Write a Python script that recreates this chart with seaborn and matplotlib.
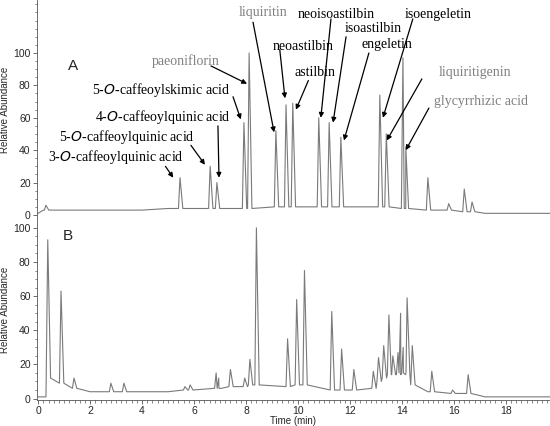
import numpy as np
import matplotlib.pyplot as plt
import seaborn as sns
from matplotlib.ticker import AutoMinorLocator, MultipleLocator

sns.set_style("ticks")
plt.rcParams['font.family'] = ['Liberation Sans', 'DejaVu Sans']

# Panel A peaks: retention time (min), height (%), foot level (%)
a_times = [0.3, 5.46, 6.62, 6.88, 7.92, 8.12, 9.15, 9.54, 9.8, 10.8, 11.2, 11.65,
           13.15, 13.4, 14.04, 14.15, 15.0, 15.8, 16.4, 16.7]
a_heights = [6, 23, 30, 20, 57, 100, 52, 68, 69, 60, 57, 48, 74, 50, 97, 42, 23, 7, 16, 8]
a_feet = [3, 4, 4, 4, 4, 4, 5, 5, 5, 5, 5, 5, 5, 5, 4, 4, 3, 3, 2, 2]
a_base_t = [0.0, 0.2, 2.0, 4.0, 5.0, 17.2, 18.0, 19.7]
a_base_v = [1, 3, 3, 3, 4, 1, 1, 1]

# Panel B peaks
b_times = [0.37, 0.88, 1.38, 2.8, 3.3, 5.65, 5.85, 6.85, 6.95, 7.4, 7.95, 8.15, 8.4,
           9.6, 9.95, 10.25, 11.3, 11.68, 12.15, 12.9, 13.1, 13.3, 13.5, 13.65, 13.85,
           13.95, 14.05, 14.2, 14.4, 15.15, 15.95, 16.55]
b_heights = [93, 63, 12, 9, 9, 7, 8, 15, 12, 17, 12, 23, 100, 35, 58, 75, 51, 29, 17,
             16, 24, 31, 49, 25, 27, 50, 30, 59, 31, 16, 5, 14]
b_feet = [12, 9, 6, 4, 4, 5, 5, 6, 6, 7, 7, 8, 8, 7, 8, 8, 5, 5, 5, 6, 10, 12, 14, 14,
          14, 15, 15, 14, 8, 4, 3, 3]
b_base_t = [0.0, 0.3, 2.0, 5.0, 15.0, 17.2, 18.0, 19.7]
b_base_v = [1, 1, 4, 4, 4, 1, 1, 1]

labels = ["3-$\\it{O}$-caffeoylquinic acid", "5-$\\it{O}$-caffeoylquinic acid",
          "4-$\\it{O}$-caffeoylquinic acid", "5-$\\it{O}$-caffeoylskimic acid",
          "paeoniflorin", "liquiritin", "neoastilbin", "astilbin", "neoisoastilbin",
          "isoastilbin", "engeletin", "isoengeletin", "liquiritigenin", "glycyrrhizic acid"]
label_xy = [(3.0, 36), (3.42, 48), (4.8, 60.5), (4.73, 77), (5.7, 95), (8.65, 125),
            (10.2, 104), (10.65, 88), (11.46, 124), (12.88, 115), (13.42, 105),
            (15.38, 124), (16.8, 88), (17.04, 70)]
tips = [(5.2, 23), (6.42, 31), (6.96, 23), (7.8, 59), (8.04, 81), (9.08, 51), (9.5, 72),
        (9.92, 65), (10.88, 60), (11.35, 57), (11.77, 46), (13.27, 60), (13.42, 46),
        (14.15, 40)]
starts = [(4.9, 30), (5.88, 43), (6.92, 55), (7.5, 73), (6.65, 92), (8.27, 119),
          (9.3, 102), (10.4, 83), (11.27, 121), (11.85, 110), (12.73, 100), (14.42, 121),
          (14.77, 84), (15.04, 66)]
grey_labels = {"paeoniflorin", "liquiritin", "liquiritigenin", "glycyrrhizic acid"}


def trace(times, heights, feet, base_t, base_v, hw=0.06):
    t = list(base_t)
    v = list(base_v)
    for tt, h, f in zip(times, heights, feet):
        t += [tt - hw, tt, tt + hw * 1.8]
        v += [f, h, f]
    order = np.argsort(t, kind="stable")
    return np.array(t)[order], np.array(v)[order]


fig = plt.figure(figsize=(5.5, 4.26), dpi=100)
ax_a = fig.add_axes([0.067, 0.4836, 0.933, 0.5164])
ax_b = fig.add_axes([0.067, 0.062, 0.933, 0.4216])

line_col = "#7a7a7a"
ta, va = trace(a_times, a_heights, a_feet, a_base_t, a_base_v)
tb, vb = trace(b_times, b_heights, b_feet, b_base_t, b_base_v)
sns.lineplot(x=ta, y=va, ax=ax_a, color=line_col, linewidth=0.8, sort=False)
sns.lineplot(x=tb, y=vb, ax=ax_b, color=line_col, linewidth=0.8, sort=False)

ax_a.set_ylim(-3.1, 132.7)
ax_b.set_ylim(-0.6, 104.6)
for ax in (ax_a, ax_b):
    ax.set_xlim(-0.05, 19.7)
    ax.xaxis.set_major_locator(MultipleLocator(2))
    ax.xaxis.set_minor_locator(AutoMinorLocator(10))
    ax.set_yticks([0, 20, 40, 60, 80, 100])
    ax.yaxis.set_minor_locator(AutoMinorLocator(4))
    ax.tick_params(labelsize=7.5, length=3, width=0.6, color="#555555", pad=1.5)
    ax.tick_params(which="minor", length=1.8, width=0.5, color="#555555")
    for s in ("top", "right"):
        ax.spines[s].set_visible(False)
    for s in ("left", "bottom"):
        ax.spines[s].set_linewidth(0.6)
        ax.spines[s].set_color("#555555")
    ax.set_ylabel("Relative Abundance", fontsize=7, labelpad=2)

ax_a.tick_params(labelbottom=False)
ax_b.set_xlabel("Time (min)", fontsize=7, labelpad=0)
ax_a.text(1.35, 92, "A", fontsize=11, ha="center", va="center")
ax_b.text(1.15, 95, "B", fontsize=11, ha="center", va="center")

for name, xy, tip, st in zip(labels, label_xy, tips, starts):
    col = "#808080" if name in grey_labels else "black"
    ax_a.text(xy[0], xy[1], name, fontsize=10, ha="center", va="center", color=col,
              family=["Liberation Serif", "DejaVu Serif"])
    ax_a.annotate("", xy=tip, xytext=st,
                  arrowprops=dict(arrowstyle="-|>", color="black", lw=0.9,
                                  mutation_scale=7, shrinkA=0, shrinkB=0))

fig.savefig("out.png", dpi=100)
